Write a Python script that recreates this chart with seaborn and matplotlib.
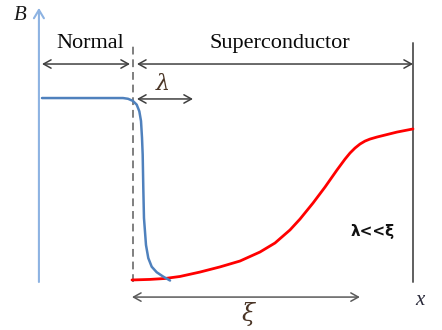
import matplotlib
matplotlib.use("Agg")
import matplotlib.pyplot as plt
import seaborn as sns
import pandas as pd

# Position along x in units of the penetration depth (interface at x = 0),
# field B normalised to its value in the normal region.
blue_x = [-1.625, -0.179, -0.089, -0.005, 0.066, 0.113, 0.143, 0.161, 0.173,
          0.184, 0.196, 0.232, 0.273, 0.334, 0.423, 0.541, 0.661]
blue_b = [1.0, 1.0, 0.996, 0.985, 0.964, 0.928, 0.875, 0.783, 0.692,
          0.511, 0.348, 0.201, 0.130, 0.083, 0.053, 0.029, 0.008]

# Order parameter rising over the coherence length
red_x = [-0.018, 0.304, 0.571, 0.839, 1.196, 1.554, 1.911, 2.268, 2.536, 2.804,
         2.982, 3.214, 3.429, 3.643, 3.786, 3.875, 3.964, 4.054, 4.143, 4.232,
         4.357, 4.714, 5.0]
red_b = [0.011, 0.014, 0.019, 0.030, 0.054, 0.082, 0.114, 0.163, 0.212, 0.283,
         0.342, 0.429, 0.516, 0.609, 0.668, 0.701, 0.728, 0.750, 0.766, 0.777,
         0.788, 0.815, 0.832]

# Region markers
b_axis_x = -1.68
interface_x = 0.0
sample_end_x = 5.0
lambda_len = 1.0
xi_len = 4.07
region_labels = ["Normal", "Superconductor"]
ratio_label = "λ<<ξ"

sns.set_theme(style="white")

fig = plt.figure(figsize=(4.42, 3.30), dpi=100)
ax = fig.add_axes([0, 0, 1, 1])

blue_df = pd.DataFrame({"x": blue_x, "B": blue_b})
red_df = pd.DataFrame({"x": red_x, "B": red_b})

# Axes of the sketch
ax.annotate("", xy=(b_axis_x, 1.49), xytext=(b_axis_x, 0.0),
            arrowprops=dict(arrowstyle="->,head_length=0.5,head_width=0.3",
                            color="#8db3e2", lw=1.5, shrinkA=0, shrinkB=0))
ax.annotate("", xy=(5.56, 0.0), xytext=(-1.625, 0.0),
            arrowprops=dict(arrowstyle="->,head_length=0.45,head_width=0.25",
                            color="#6e6e6e", lw=1.8, shrinkA=0, shrinkB=0))

# Interface and sample boundary
ax.plot([interface_x, interface_x], [0.0, 1.304], color="#7f7f7f", lw=1.4,
        ls=(0, (4, 2.5)))
ax.plot([sample_end_x, sample_end_x], [0.0, 1.30], color="#5f5f5f", lw=1.4)

# Curves
sns.lineplot(data=red_df, x="x", y="B", sort=False, color="#ff0000", lw=2.0,
             ax=ax, legend=False)
sns.lineplot(data=blue_df, x="x", y="B", sort=False, color="#4f81bd", lw=1.8,
             ax=ax, legend=False)
ax.set_xlim(-2.375, 5.518)
ax.set_ylim(-0.261, 1.533)
ax.axis("off")

arrow_kw = dict(arrowstyle="<->,head_length=0.45,head_width=0.25",
                color="#404040", lw=1.1, shrinkA=0, shrinkB=0)
# Region spans
ax.annotate("", xy=(-1.625, 1.185), xytext=(-0.054, 1.185), arrowprops=arrow_kw)
ax.annotate("", xy=(0.071, 1.185), xytext=(sample_end_x, 1.185), arrowprops=arrow_kw)
# Penetration depth
ax.annotate("", xy=(0.071, 0.995), xytext=(0.071 + lambda_len, 0.995),
            arrowprops=arrow_kw)
# Coherence length
ax.annotate("", xy=(-0.018, -0.082), xytext=(-0.018 + xi_len, -0.082),
            arrowprops=dict(arrow_kw, color="#5a5a5a"))

serif = "Liberation Serif"
ax.text(-0.768, 1.299, region_labels[0], family=serif, fontsize=16,
        ha="center", va="center", color="#0a0a0a")
ax.text(2.625, 1.299, region_labels[1], family=serif, fontsize=16,
        ha="center", va="center", color="#0a0a0a")
ax.text(-2.02, 1.45, "B", family=serif, style="italic", fontsize=15,
        ha="center", va="center", color="#1a1a1a")
ax.text(5.125, -0.10, "x", family=serif, style="italic", fontsize=15,
        ha="center", va="center", color="#2a2a3a")
ax.text(0.536, 1.075, "λ", family=["DejaVu Serif"], style="italic", fontsize=16,
        ha="center", va="center", color="#4a3526")
ax.text(2.054, -0.172, "ξ", family=["DejaVu Serif"], style="italic", fontsize=17,
        ha="center", va="center", color="#4a3526")
ax.text(4.286, 0.277, ratio_label, family="DejaVu Sans", fontweight="bold",
        fontsize=11, ha="center", va="center", color="#111111")

fig.savefig("out.png", dpi=100)
